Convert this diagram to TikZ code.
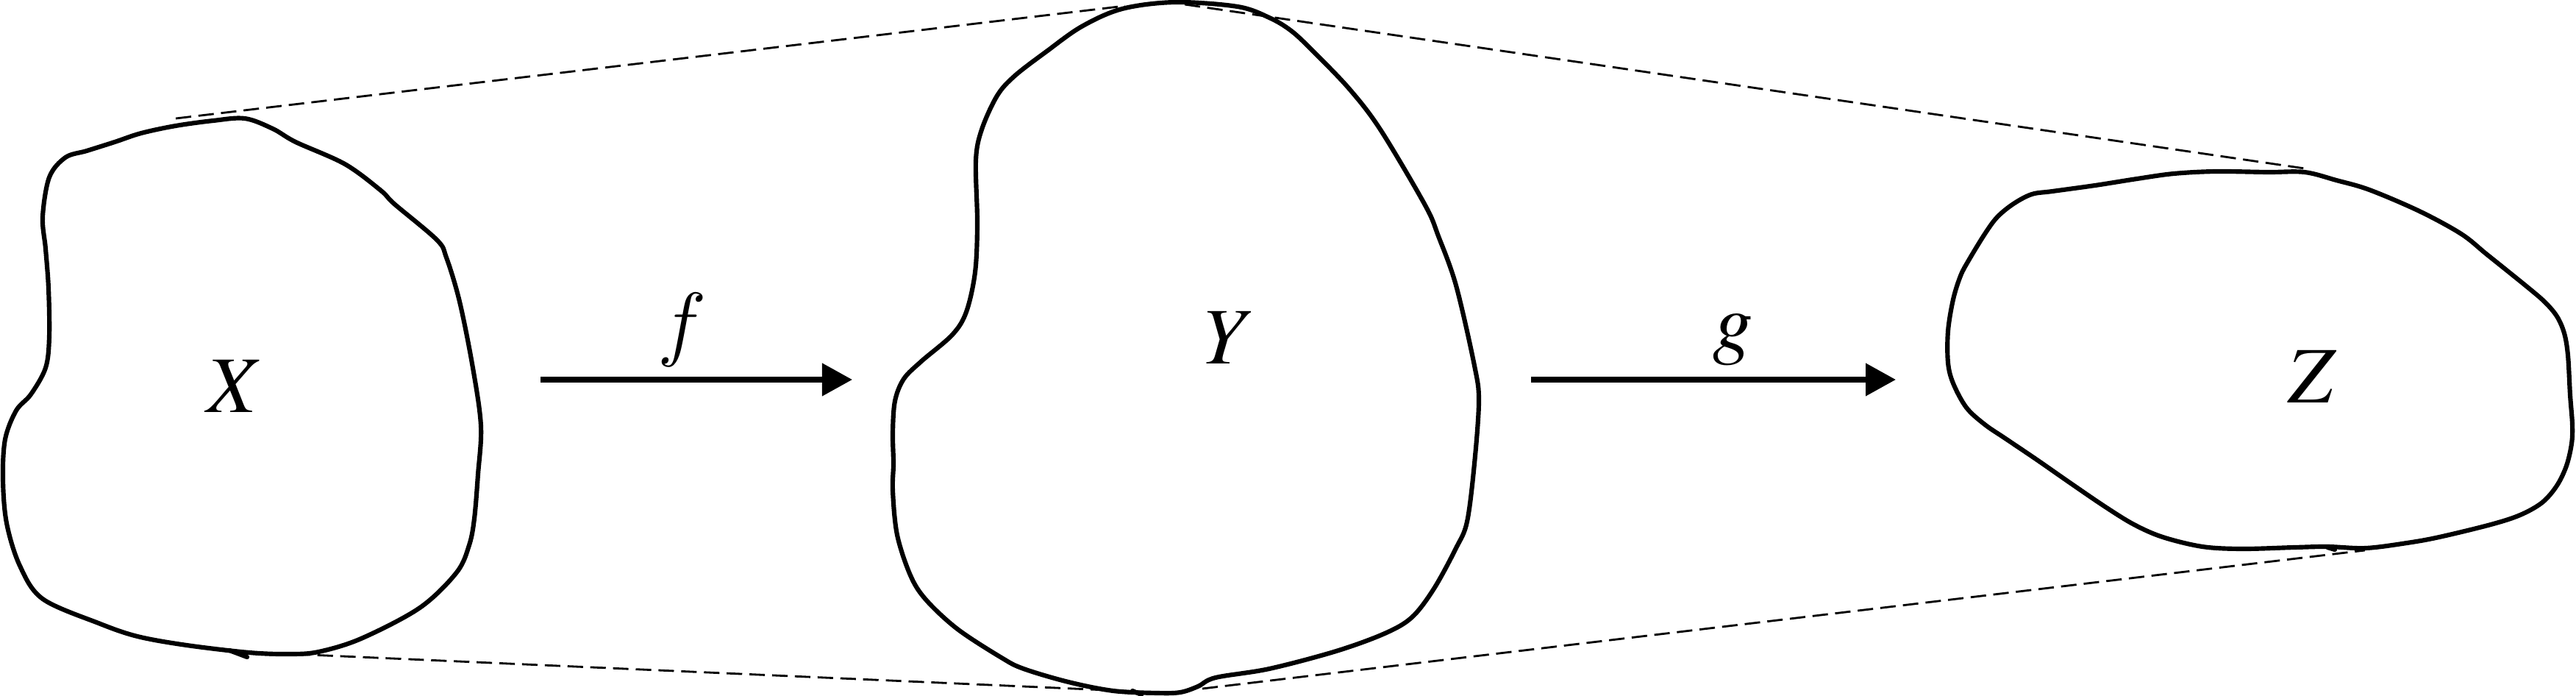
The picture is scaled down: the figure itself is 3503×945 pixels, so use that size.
\documentclass[tikz,border=0pt]{standalone}
\usepackage{fix-cm}
\usepackage{fontspec}
\setmainfont{Liberation Serif}
\newcommand\timesitalic{\fontencoding{OT1}\fontfamily{ptm}\fontseries{m}\fontshape{it}\selectfont}
\usetikzlibrary{arrows.meta}
\begin{document}
\begin{tikzpicture}[x=0.01cm,y=-0.01cm,
  blob/.style={line width=1.75pt, line join=round, line cap=round},
  tangent/.style={line width=0.8pt, dash pattern=on 6pt off 2.8pt},
  maparrow/.style={line width=2.1pt, -{Triangle[length=0.41cm,width=0.43cm]}},
  setlabel/.style={anchor=base, inner sep=0pt, font=\fontsize{31}{37}\selectfont\timesitalic},
  maplabel/.style={anchor=base, inner sep=0pt, font=\fontsize{32}{38}\selectfont}]
\useasboundingbox (0,0) rectangle (3503,945);

% set X
\draw[blob] plot[smooth cycle, tension=0.55] coordinates {
 (239,171) (290,164) (333,161) (371,175) (402,193) (469,223) (518,259) (536,277)
 (594,326) (607,350) (625,410) (643,500) (654,579) (650,645) (645,705) (638,741)
 (621,778) (571,826) (491,868) (433,886) (393,889) (339,887) (254,877) (187,865)
 (134,847) (58,814) (27,769) (9,711) (4,651) (7,597) (22,558) (42,536) (62,500)
 (67,458) (66,392) (62,338) (58,295) (67,241) (89,214) (118,205) (156,193) (192,181)};
\draw[blob] (312,884) -- (336,893);

% set Y
\draw[blob] plot[smooth cycle, tension=0.55] coordinates {
 (1598,3) (1683,9) (1726,24) (1756,42) (1786,70) (1835,121) (1877,176) (1938,279)
 (1956,321) (1980,388) (2005,497) (2011,545) (2005,630) (1995,709) (1980,745)
 (1950,800) (1920,839) (1883,861) (1817,885) (1726,909) (1653,921) (1629,933)
 (1605,941) (1574,942) (1514,939) (1453,927) (1392,909) (1362,894) (1302,855)
 (1259,815) (1238,782) (1220,727) (1214,667) (1215,630) (1214,588) (1217,545)
 (1229,515) (1253,491) (1295,455) (1314,424) (1326,370) (1329,303) (1327,218)
 (1335,176) (1356,130) (1380,103) (1423,70) (1471,36) (1526,12)};
\draw[blob] (1540,939) -- (1552,944);

% set Z
\draw[blob] plot[smooth cycle, tension=0.55] coordinates {
 (3134,234) (3084,234) (3013,233) (2956,236) (2906,243) (2849,252) (2791,260)
 (2763,264) (2738,277) (2716,295) (2699,318) (2677,354) (2666,375) (2656,407)
 (2649,450) (2649,493) (2656,521) (2674,554) (2699,577) (2727,596) (2770,625)
 (2816,657) (2863,689) (2902,713) (2941,730) (2995,743) (3049,746) (3120,744)
 (3165,743) (3217,745) (3273,738) (3317,730) (3387,713) (3427,700) (3457,683)
 (3477,660) (3490,633) (3497,603) (3498,577) (3495,537) (3492,483) (3487,453)
 (3477,430) (3460,410) (3433,387) (3382,346) (3347,318) (3290,287) (3222,258)
 (3177,245)};
\draw[blob] (3165,744) -- (3175,747);

% labels
\node[setlabel] (lX) at (315,560) {X};
\node[setlabel] (lY) at (1663,494) {Y};
\node[setlabel] (lZ) at (3142,547) {Z};
\node[maplabel] (lf) at (928,476) {$f$};
\node[setlabel] (lg) at (2357,474) {g};

% maps
\coordinate (fa) at (735,516);
\coordinate (fb) at (1159,516);
\coordinate (ga) at (2082,516);
\coordinate (gb) at (2578,516);
\draw[maparrow] (fa) -- (fb);
\draw[maparrow] (ga) -- (gb);

% tangent lines
\coordinate (xt) at (239,161);
\coordinate (yt1) at (1530,8);
\coordinate (yt2) at (1611,6);
\coordinate (zt) at (3141,230);
\coordinate (xb) at (308,885);
\coordinate (yb1) at (1550,940);
\coordinate (yb2) at (1635,936);
\coordinate (zb) at (3216,748);
\draw[tangent] (xt) -- (yt1);
\draw[tangent] (yt2) -- (zt);
\draw[tangent] (xb) -- (yb1);
\draw[tangent] (yb2) -- (zb);
\end{tikzpicture}
\end{document}
